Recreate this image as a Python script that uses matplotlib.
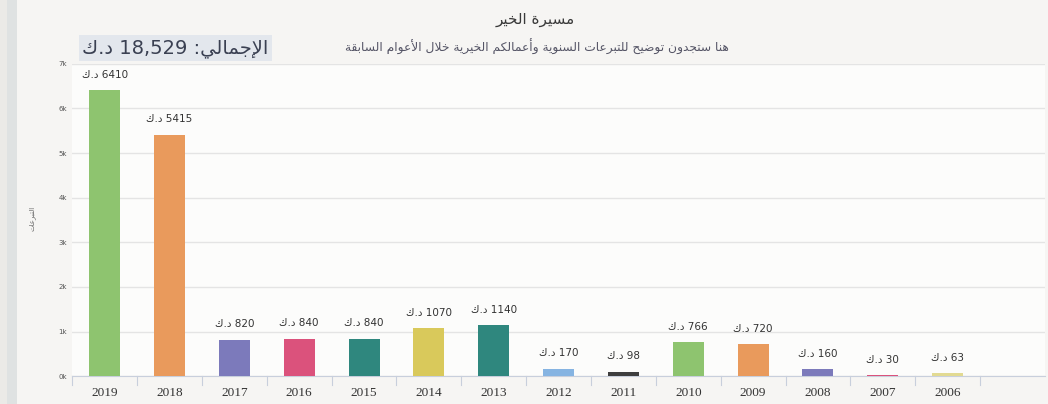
import matplotlib
matplotlib.use("Agg")
import matplotlib.pyplot as plt
from matplotlib.patches import Rectangle

# data
years = ["2019", "2018", "2017", "2016", "2015", "2014", "2013",
         "2012", "2011", "2010", "2009", "2008", "2007", "2006"]
donations = [6410, 5415, 820, 840, 840, 1070, 1140, 170, 98, 766, 720, 160, 30, 63]
bar_colors = ["#8ec46f", "#e99a5c", "#7c7abb", "#db527c", "#2f877e", "#d9c95b", "#2f877e",
              "#86b4e2", "#3e3e3e", "#8ec46f", "#e99a5c", "#7c7abb", "#db527c", "#e2da92"]
ytick_values = [0, 1000, 2000, 3000, 4000, 5000, 6000, 7000]
ytick_labels = ["0k", "1k", "2k", "3k", "4k", "5k", "6k", "7k"]
total_value = "18,529"
title_text = "مسيرة الخير"
subtitle_text = "هنا ستجدون توضيح للتبرعات السنوية وأعمالكم الخيرية خلال الأعوام السابقة"
total_word = "الإجمالي"
currency = "د.ك"
ylabel_text = "التبرعات"

# matplotlib has no arabic shaping, so map letters to presentation forms
# (isolated, final, initial, medial)
FORMS = {
    'ا': ('\uFE8D', '\uFE8E', None, None),
    'أ': ('\uFE83', '\uFE84', None, None),
    'إ': ('\uFE87', '\uFE88', None, None),
    'ب': ('\uFE8F', '\uFE90', '\uFE91', '\uFE92'),
    'ة': ('\uFE93', '\uFE94', None, None),
    'ت': ('\uFE95', '\uFE96', '\uFE97', '\uFE98'),
    'ج': ('\uFE9D', '\uFE9E', '\uFE9F', '\uFEA0'),
    'ح': ('\uFEA1', '\uFEA2', '\uFEA3', '\uFEA4'),
    'خ': ('\uFEA5', '\uFEA6', '\uFEA7', '\uFEA8'),
    'د': ('\uFEA9', '\uFEAA', None, None),
    'ر': ('\uFEAD', '\uFEAE', None, None),
    'س': ('\uFEB1', '\uFEB2', '\uFEB3', '\uFEB4'),
    'ض': ('\uFEBD', '\uFEBE', '\uFEBF', '\uFEC0'),
    'ع': ('\uFEC9', '\uFECA', '\uFECB', '\uFECC'),
    'ق': ('\uFED5', '\uFED6', '\uFED7', '\uFED8'),
    'ك': ('\uFED9', '\uFEDA', '\uFEDB', '\uFEDC'),
    'ل': ('\uFEDD', '\uFEDE', '\uFEDF', '\uFEE0'),
    'م': ('\uFEE1', '\uFEE2', '\uFEE3', '\uFEE4'),
    'ن': ('\uFEE5', '\uFEE6', '\uFEE7', '\uFEE8'),
    'ه': ('\uFEE9', '\uFEEA', '\uFEEB', '\uFEEC'),
    'و': ('\uFEED', '\uFEEE', None, None),
    'ي': ('\uFEF1', '\uFEF2', '\uFEF3', '\uFEF4'),
}
LAMALEF = {'ا': ('\uFEFB', '\uFEFC'), 'أ': ('\uFEF7', '\uFEF8'), 'إ': ('\uFEF9', '\uFEFA')}


def joins_next(c):
    return c in FORMS and FORMS[c][2] is not None


def shape(text):
    chars = list(text)
    n = len(chars)
    res = []
    i = 0
    while i < n:
        c = chars[i]
        prev_joins = i > 0 and joins_next(chars[i - 1])
        if c == 'ل' and i + 1 < n and chars[i + 1] in LAMALEF:
            iso, fin = LAMALEF[chars[i + 1]]
            res.append(fin if prev_joins else iso)
            i += 2
            continue
        if c in FORMS:
            f = FORMS[c]
            nxt = chars[i + 1] if i + 1 < n else ''
            can_next = f[2] is not None and nxt in FORMS
            if prev_joins and can_next:
                res.append(f[3])
            elif prev_joins:
                res.append(f[1])
            elif can_next:
                res.append(f[2])
            else:
                res.append(f[0])
        else:
            res.append(c)
        i += 1
    return ''.join(reversed(res))


fig = plt.figure(figsize=(10.48, 4.04), dpi=100)
fig.patch.set_facecolor("#f6f5f3")

# grey strip on the left edge
fig.add_artist(Rectangle((0, 0), 0.007, 1, transform=fig.transFigure,
                         facecolor="#ebeae7", edgecolor="none"))
fig.add_artist(Rectangle((0.007, 0), 0.009, 1, transform=fig.transFigure,
                         facecolor="#dfe2e2", edgecolor="none"))

ax = fig.add_axes([0.069, 0.069, 0.928, 0.773])
ax.set_facecolor("#fcfcfb")

x = list(range(len(years)))
ax.bar(x, donations, width=0.48, color=bar_colors, zorder=3)

cur = shape(currency)
for xi, v in zip(x, donations):
    ax.annotate(cur + " " + str(v), (xi, v), xytext=(0, 11), textcoords="offset points",
                ha="center", va="center", fontsize=7.5, color="#333333", zorder=4)

ax.set_xlim(-0.5, len(years) + 0.5)
ax.set_ylim(0, 7000)
ax.set_yticks(ytick_values)
ax.set_yticklabels(ytick_labels, fontsize=5, color="#555555")
ax.set_xticks(x)
ax.set_xticklabels(years, fontsize=9.5, color="#333333", family="Liberation Serif")
ax.tick_params(axis="x", length=0, pad=8)
ax.tick_params(axis="y", length=0, pad=4)

# boundary ticks between categories
for b in range(len(years) + 1):
    ax.plot([b - 0.5, b - 0.5], [0, -0.03], transform=ax.get_xaxis_transform(),
            color="#c8cfdc", lw=0.8, clip_on=False)

ax.grid(axis="y", color="#e4e4e4", lw=1, zorder=0)
for s in ["top", "right", "left"]:
    ax.spines[s].set_visible(False)
ax.spines["bottom"].set_color("#c8cfdc")

fig.text(0.031, 0.46, shape(ylabel_text), rotation=90, fontsize=5, color="#666666",
         ha="center", va="center")

fig.text(0.511, 0.952, shape(title_text), fontsize=11, color="#3a3a3a", ha="center", va="center")
fig.text(0.512, 0.883, shape(subtitle_text), fontsize=8.8, color="#555566", ha="center", va="center")

fig.add_artist(Rectangle((0.075, 0.848), 0.185, 0.065, transform=fig.transFigure,
                         facecolor="#e3e7ed", edgecolor="none"))
fig.text(0.167, 0.881, cur + " " + total_value + " :" + shape(total_word), fontsize=14,
         color="#3a4052", ha="center", va="center")

fig.savefig("out.png", dpi=100, facecolor=fig.get_facecolor())
